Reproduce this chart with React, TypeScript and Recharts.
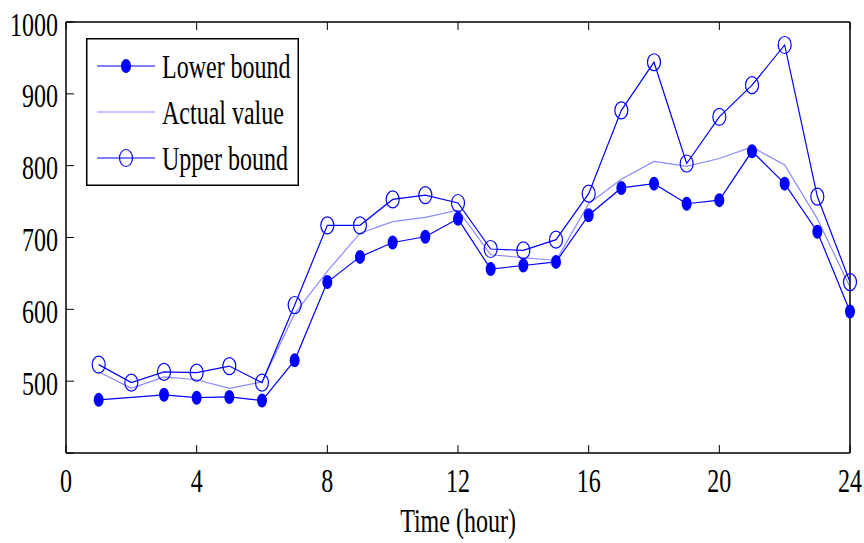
import { LineChart, Line, XAxis, YAxis, Legend } from "recharts";

// hourly values
const hours = [1, 2, 3, 4, 5, 6, 7, 8, 9, 10, 11, 12, 13, 14, 15, 16, 17, 18, 19, 20, 21, 22, 23, 24];
const lowerBound = [474, null, 481, 477, 478, 473, 529, 638, 673, 693, 701, 726, 656, 661, 666, 731, 769, 775, 747, 752, 820, 775, 708, 597];
const actualValue = [513, 490, 506, 502, 490, 499, 594, 653, 706, 722, 728, 738, 676, 672, 668, 747, 781, 806, 799, 810, 826, 801, 726, 631];
const upperBound = [523, 498, 513, 512, 521, 498, 606, 717, 717, 753, 759, 748, 684, 682, 697, 761, 877, 944, 803, 868, 912, 968, 757, 638];

const xTicks = [0, 4, 8, 12, 16, 20, 24];
const yTicks = [400, 500, 600, 700, 800, 900, 1000];

const BLUE = "#0000ff";
const LIGHT = "#8a8aff";
const FONT = "'Liberation Serif', 'Times New Roman', serif";
const SY = 1.4; // the original text is stretched vertically

const data = hours.map((t, i) => ({
  t,
  lower: lowerBound[i],
  actual: actualValue[i],
  upper: upperBound[i],
}));

function Txt({ x, y, anchor, children }: any) {
  return (
    <g transform={`translate(${x},${y}) scale(1,${SY})`}>
      <text x={0} y={0} textAnchor={anchor} dominantBaseline="central" fontFamily={FONT} fontSize={24} fill="#000">
        {children}
      </text>
    </g>
  );
}

const BottomTick = ({ x, y, payload }: any) => (
  <g>
    <line x1={x} y1={y} x2={x} y2={y - 8} stroke="#000" strokeWidth={1} />
    <Txt x={x} y={y + 27} anchor="middle">{payload.value}</Txt>
  </g>
);

const TopTick = ({ x, y }: any) => <line x1={x} y1={y} x2={x} y2={y + 8} stroke="#000" strokeWidth={1} />;

const LeftTick = ({ x, y, payload }: any) => (
  <g>
    <line x1={x} y1={y} x2={x + 8} y2={y} stroke="#000" strokeWidth={1} />
    {payload.value !== 400 && <Txt x={x - 8} y={y + 2} anchor="end">{payload.value}</Txt>}
  </g>
);

const RightTick = ({ x, y }: any) => <line x1={x} y1={y} x2={x - 8} y2={y} stroke="#000" strokeWidth={1} />;

const FilledDot = (p: any) =>
  p.cx == null || p.value == null ? <g key={p.key} /> : <ellipse key={p.key} cx={p.cx} cy={p.cy} rx={5} ry={7} fill={BLUE} />;

const OpenDot = (p: any) =>
  p.cx == null ? <g key={p.key} /> : (
    <ellipse key={p.key} cx={p.cx} cy={p.cy} rx={6.5} ry={8.5} fill="none" stroke={BLUE} strokeWidth={1.2} />
  );

const AxisTitle = (p: any) => {
  const vb = p.viewBox || { x: 66, y: 453, width: 784 };
  return <Txt x={vb.x + vb.width / 2} y={vb.y + 67} anchor="middle">Time (hour)</Txt>;
};

function LegendBox() {
  const rows = [
    { name: "Lower bound", color: BLUE, dot: "filled" },
    { name: "Actual value", color: LIGHT, dot: "none" },
    { name: "Upper bound", color: BLUE, dot: "open" },
  ];
  return (
    <svg width={214} height={149} style={{ display: "block" }}>
      <rect x={0.75} y={0.75} width={211.5} height={146.5} fill="#fff" stroke="#000" strokeWidth={1.5} />
      {rows.map((r, i) => {
        const y = 28 + i * 46;
        return (
          <g key={r.name}>
            <line x1={11} y1={y} x2={69} y2={y} stroke={r.color} strokeWidth={1.2} />
            {r.dot === "filled" && <ellipse cx={40} cy={y} rx={5} ry={7} fill={BLUE} />}
            {r.dot === "open" && <ellipse cx={40} cy={y} rx={6.5} ry={8.5} fill="none" stroke={BLUE} strokeWidth={1.2} />}
            <Txt x={76} y={y} anchor="start">{r.name}</Txt>
          </g>
        );
      })}
    </svg>
  );
}

export default function App() {
  return (
    <div style={{ position: "absolute", left: 0, top: 0, background: "#fff" }}>
      <LineChart width={864} height={543} data={data} margin={{ top: 21, right: 13, bottom: 0, left: 0 }}>
        <XAxis
          dataKey="t"
          type="number"
          domain={[0, 24]}
          ticks={xTicks}
          interval={0}
          height={90}
          tickSize={0}
          tickMargin={0}
          tick={BottomTick}
          axisLine={{ stroke: "#000", strokeWidth: 1.5 }}
          label={{ content: AxisTitle }}
        />
        <XAxis
          xAxisId="top"
          orientation="top"
          dataKey="t"
          type="number"
          domain={[0, 24]}
          ticks={xTicks}
          interval={0}
          height={1}
          tickSize={0}
          tickMargin={0}
          tick={TopTick}
          axisLine={{ stroke: "#000", strokeWidth: 1.5 }}
        />
        <YAxis
          type="number"
          domain={[400, 1000]}
          ticks={yTicks}
          interval={0}
          width={66}
          tickSize={0}
          tickMargin={0}
          tick={LeftTick}
          axisLine={{ stroke: "#000", strokeWidth: 1.5 }}
        />
        <YAxis
          yAxisId="right"
          orientation="right"
          type="number"
          domain={[400, 1000]}
          ticks={yTicks}
          interval={0}
          width={1}
          tickSize={0}
          tickMargin={0}
          tick={RightTick}
          axisLine={{ stroke: "#000", strokeWidth: 1.5 }}
        />
        <Legend
          layout="vertical"
          align="center"
          verticalAlign="middle"
          content={() => <LegendBox />}
          wrapperStyle={{ left: 86, top: 38, width: 214, height: 149 }}
        />
        <Line dataKey="actual" stroke={LIGHT} strokeWidth={1.2} dot={false} isAnimationActive={false} />
        <Line dataKey="lower" stroke={BLUE} strokeWidth={1.2} dot={FilledDot} connectNulls isAnimationActive={false} />
        <Line dataKey="upper" stroke={BLUE} strokeWidth={1.2} dot={OpenDot} isAnimationActive={false} />
      </LineChart>
    </div>
  );
}
